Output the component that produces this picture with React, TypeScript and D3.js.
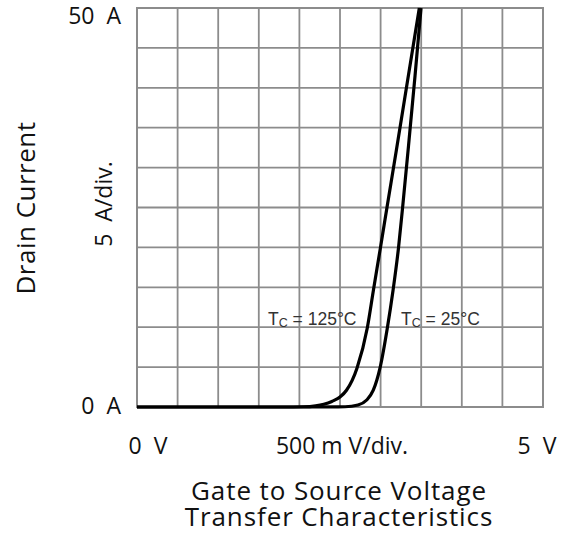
import React from "react";
import * as d3 from "d3";

const W = 571;
const H = 541;

// Gate-source voltage (V) and drain current (A)
const vgs125 = [0, 1.8, 2.05, 2.2, 2.3, 2.4, 2.5, 2.58, 2.71, 2.836, 2.911, 2.997, 3.077, 3.193, 3.318, 3.477];
const id125 = [0, 0, 0.03, 0.15, 0.35, 0.7, 1.25, 2.1, 4.9, 9.9, 14.6, 19.9, 24.9, 32.1, 40, 50];
const vgs25 = [0, 2.0, 2.562, 2.722, 2.829, 2.91, 2.993, 3.083, 3.153, 3.22, 3.27, 3.35, 3.424, 3.498];
const id25 = [0, 0, 0.03, 0.25, 0.875, 2.1, 4.9, 9.9, 14.6, 19.9, 24.9, 33.4, 41.5, 50];

const xDivs = d3.range(0, 5.0001, 0.5);
const yDivs = d3.range(0, 50.0001, 5);

const NB = "\u00A0";
const xTickLabels = ["0" + NB + NB + "V", "500 m V/div.", "5" + NB + NB + "V"];
const yTickLabels = ["50" + NB + NB + "A", "0" + NB + NB + "A"];
const yScaleLabel = "5" + NB + NB + "A/div.";

const axisFont = "'Open Sans', 'Noto Sans', sans-serif";

export default function App() {
  const x = d3.scaleLinear().domain([0, 5]).range([137, 543]);
  const y = d3.scaleLinear().domain([0, 50]).range([407, 8]);

  const line = d3
    .line<[number, number]>()
    .x((d) => x(d[0]))
    .y((d) => y(d[1]))
    .curve(d3.curveMonotoneX);

  const p125 = line(vgs125.map((v, i) => [v, id125[i]] as [number, number])) || "";
  const p25 = line(vgs25.map((v, i) => [v, id25[i]] as [number, number])) || "";

  const grid = "#8c8c8c";

  return (
    <div style={{ position: "absolute", left: 0, top: 0 }}>
      <svg width={W} height={H} style={{ display: "block", background: "#fff" }}>
        <rect x={0} y={0} width={W} height={H} fill="#fff" />
        {xDivs.map((v, i) => (
          <line key={"gx" + i} x1={x(v)} x2={x(v)} y1={y(0)} y2={y(50)} stroke={grid} strokeWidth={1.8} />
        ))}
        {yDivs.map((v, i) => (
          <line key={"gy" + i} x1={x(0)} x2={x(5)} y1={y(v)} y2={y(v)} stroke={grid} strokeWidth={1.8} />
        ))}
        <rect x={x(0)} y={y(50)} width={x(5) - x(0)} height={y(0) - y(50)} fill="none" stroke={grid} strokeWidth={2} />

        <path d={p125} fill="none" stroke="#000" strokeWidth={3.2} strokeLinejoin="round" />
        <path d={p25} fill="none" stroke="#000" strokeWidth={3.2} strokeLinejoin="round" />

        <g fontFamily="'Liberation Sans', Arial, sans-serif" fontSize={17.5} fill="#333">
          <text x={268} y={325}>
            T<tspan fontSize={12.5} dy={2}>C</tspan>
            <tspan dy={-2}> = 125°C</tspan>
          </text>
          <text x={401} y={325}>
            T<tspan fontSize={12.5} dy={2}>C</tspan>
            <tspan dy={-2}> = 25°C</tspan>
          </text>
        </g>

        <g fontFamily={axisFont} fontSize={23} fill="#111">
          <text x={148} y={454} textAnchor="middle">{xTickLabels[0]}</text>
          <text x={342} y={454} textAnchor="middle">{xTickLabels[1]}</text>
          <text x={537} y={454} textAnchor="middle">{xTickLabels[2]}</text>
          <text x={121} y={24} textAnchor="end">{yTickLabels[0]}</text>
          <text x={121} y={414} textAnchor="end">{yTickLabels[1]}</text>
          <text transform="translate(112,204) rotate(-90)" textAnchor="middle">{yScaleLabel}</text>
        </g>

        <g fontFamily={axisFont} fontSize={26} fill="#111">
          <text transform="translate(35,208) rotate(-90)" textAnchor="middle" letterSpacing={0.5}>Drain Current</text>
          <text x={339} y={500} textAnchor="middle" letterSpacing={0.9}>Gate to Source Voltage</text>
          <text x={339} y={526} textAnchor="middle" letterSpacing={0.9}>Transfer Characteristics</text>
        </g>
      </svg>
    </div>
  );
}
